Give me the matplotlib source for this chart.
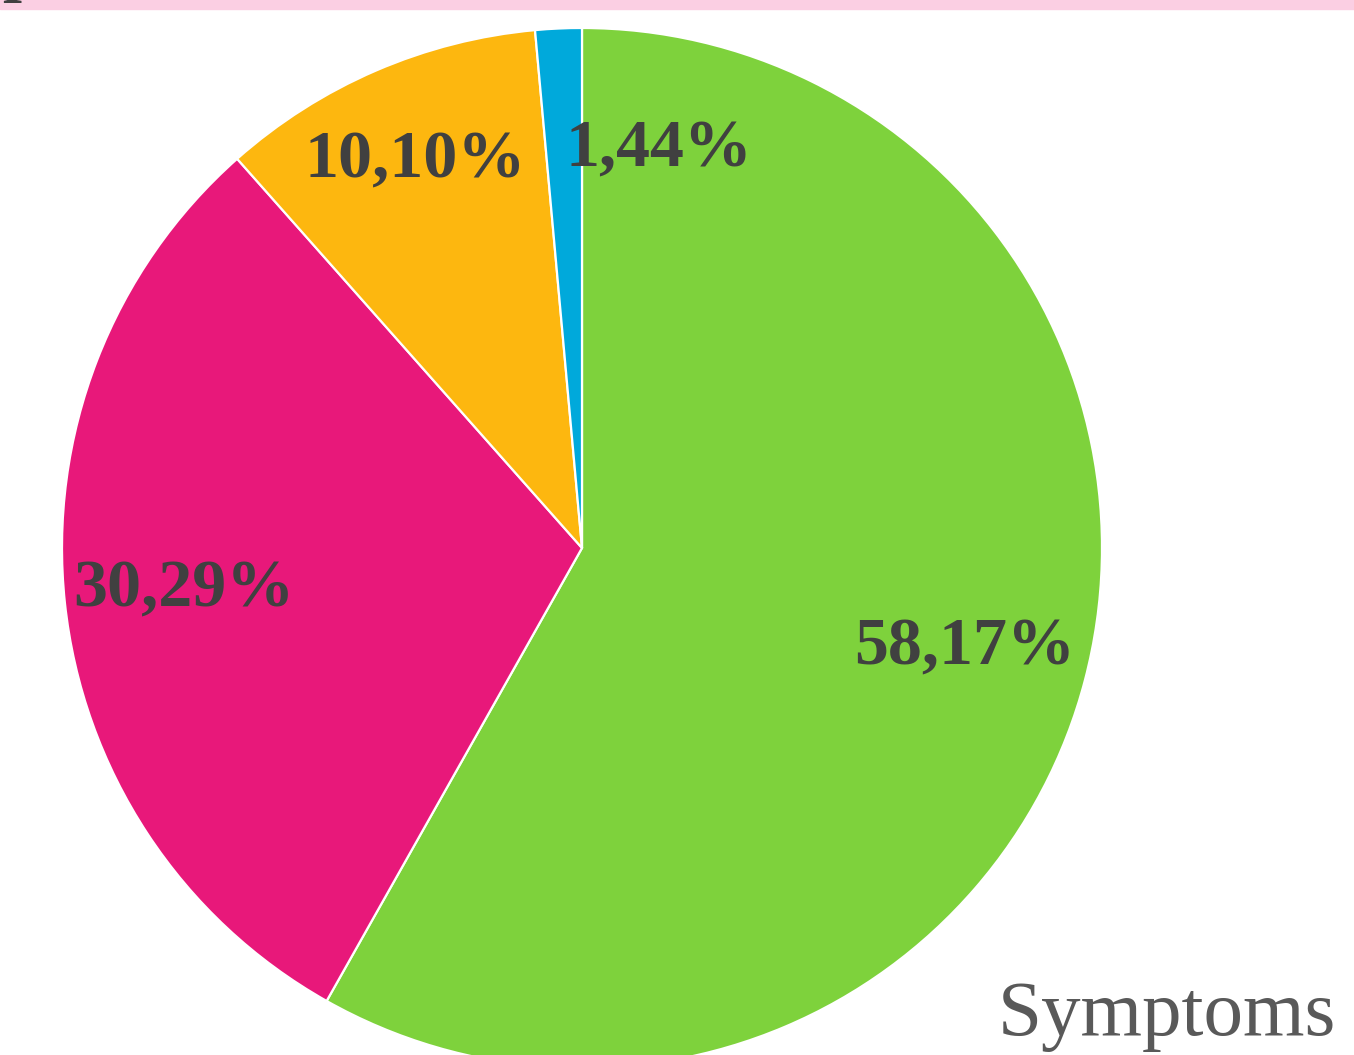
import matplotlib
matplotlib.use("Agg")
import matplotlib.pyplot as plt
import numpy as np
from matplotlib.patches import Rectangle

categories = ["A", "B", "C", "D"]
values = [58.17, 30.29, 10.10, 1.44]
colors = ["#7ED23C", "#E8187A", "#FDB70F", "#00A9DB"]
title = "Symptoms"

W, H = 1354, 1055
fig = plt.figure(figsize=(W / 100, H / 100), dpi=100)
ax = fig.add_axes([0, 0, 1, 1])

cx, cy, R = 582, H - 548, 520
wedges, _ = ax.pie(values, colors=colors, startangle=90, counterclock=False,
                   center=(cx, cy), radius=R, frame=True,
                   wedgeprops=dict(edgecolor="white", linewidth=1.6))
ax.set_xlim(0, W)
ax.set_ylim(0, H)
ax.set_aspect("equal")
ax.axis("off")

# percent labels
dist = [0.76, 0.77, 0.81, 0.78]
angle_override = [None, None, None, 79]
for w, v, d, ao in zip(wedges, values, dist, angle_override):
    th = (w.theta1 + w.theta2) / 2 if ao is None else ao
    x = cx + d * R * np.cos(np.radians(th))
    y = cy + d * R * np.sin(np.radians(th))
    lab = f"{v:.2f}".replace(".", ",") + "%"
    ax.text(x, y, lab, ha="center", va="center", fontsize=49, fontweight="bold",
            family="Liberation Serif", color="#404040")

# top pink band
ax.add_patch(Rectangle((0, H - 9), W, 9, color="#FBCFE3", zorder=5, clip_on=False))
ax.text(2, H + 11, "p", ha="left", va="baseline", fontsize=49, fontweight="bold",
        family="Liberation Serif", color="#404040", zorder=6)

ax.text(1336, 20, title, ha="right", va="baseline", fontsize=57,
        family="Liberation Serif", color="#595959")

fig.savefig("out.png", dpi=100)
